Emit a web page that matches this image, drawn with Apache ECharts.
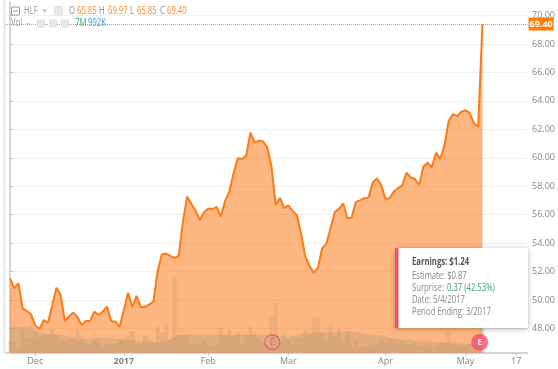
<!DOCTYPE html>
<html><head><meta charset="utf-8">
<style>html,body{margin:0;padding:0;background:#fff}#c{width:558px;height:369px}</style>
<script src="https://cdn.jsdelivr.net/npm/echarts@6/dist/echarts.min.js"></script>
</head><body><div id="c"></div>
<script>
const price = [
51.53,50.83,51.18,49.42,49.23,49.00,48.20,47.97,48.60,48.39,
49.59,50.87,50.36,48.53,48.84,49.12,48.79,48.25,48.53,48.53,
49.19,48.95,49.19,49.54,48.53,48.48,48.11,49.30,50.52,49.52,
50.29,49.52,49.52,49.70,49.89,52.00,53.22,53.26,53.10,52.96,
53.10,55.51,57.27,56.75,56.29,55.63,56.17,56.43,56.38,56.55,
55.87,56.97,57.62,58.91,59.97,59.92,60.15,61.77,61.07,61.21,
61.14,60.74,59.38,56.69,57.18,56.48,56.64,56.27,55.96,54.70,
53.06,52.40,51.91,52.26,53.64,53.95,55.05,56.19,56.41,56.80,
55.75,55.80,56.90,57.01,57.16,57.20,58.28,58.54,58.09,57.11,
57.15,57.62,57.85,58.08,58.95,58.62,58.51,58.08,59.37,59.65,
59.33,60.36,59.91,60.89,62.58,63.07,62.93,63.24,63.35,63.12,
62.42,62.18,69.40];
const volume = [
1.76,1.5,0.67,3.2,2.0,2.0,2.95,2.2,2.5,2.5,
3.4,2.5,1.76,1.76,2.0,2.2,3.2,2.3,1.4,1.2,
1.9,1.5,0.9,1.2,1.2,1.2,1.85,1.85,2.3,3.1,
1.2,1.2,2.4,2.0,1.4,3.75,2.9,4.3,1.8,10.6,
2.5,2.2,2.6,1.3,1.1,1.2,1.9,1.0,0.9,1.2,
3.6,2.5,3.2,2.5,2.9,1.3,2.6,3.75,2.6,2.2,
1.5,1.0,5.2,7.1,1.5,2.6,1.9,1.2,2.1,2.2,
3.3,2.5,5.0,4.9,3.0,1.9,4.0,2.3,3.3,1.8,
3.0,1.0,1.7,0.7,0.9,0.9,1.2,1.2,2.0,1.5,
1.9,1.7,1.4,1.7,1.2,1.2,1.5,1.0,1.0,1.2,
0.9,1.0,1.5,1.5,2.9,1.5,1.2,1.0,1.0,1.2,
1.0,0.9,7.0];
const volumeAvg = [
3.7,3.7,3.65,3.7,3.75,3.7,3.2,2.85,2.7,2.65,
2.6,2.55,2.5,2.4,2.25,2.1,2.0,1.95,1.95,2.0,
2.05,2.1,2.1,2.1,2.05,2.0,1.95,1.9,1.8,1.75,
1.7,1.65,1.6,1.55,1.5,1.5,1.6,1.75,1.9,2.3,
2.55,2.6,2.6,2.6,2.55,2.55,2.6,2.6,2.6,2.6,
2.6,2.6,2.6,2.6,2.6,2.6,2.6,2.6,2.6,2.55,
2.55,2.5,2.5,2.45,2.35,2.3,2.25,2.35,2.5,2.65,
2.75,2.8,2.8,2.85,2.85,2.9,2.9,2.95,3.0,3.0,
3.05,3.05,3.0,2.85,2.7,2.57,2.55,2.5,2.5,2.3,
2.2,2.0,1.95,1.9,1.85,1.8,1.75,1.7,1.65,1.6,
1.5,1.5,1.45,1.4,1.4,1.35,1.35,1.3,1.3,1.25,
1.25,1.2,0.99];
const xTickIndex = [6,27,47,66,89,108,120];
const xTickLabels = ['Dec','2017','Feb','Mar','Apr','May','17'];
const yTicks = [48,50,52,54,56,58,60,62,64,66,68,70];
const earningsMarks = [[62.2,1.5],[111.35,1.5]];
const lastClose = 69.40;

const FONT = '"Open Sans", sans-serif';
const GREY = '#858585', ORANGE = '#ff8420', PINK = '#fb4c6e';
const t = (x, y, text, fill, bold) => ({type:'text', x, y, z:102, scaleX:0.77, style:{text, fill, font:(bold?'bold ':'')+'10px '+FONT, textVerticalAlign:'middle'}});
const box = (x, y, w, h, stroke, fill) => ({type:'rect', z:100, shape:{x,y,width:w,height:h,r:1}, style:{stroke, fill:fill||'none', lineWidth:1}});

const chart = echarts.init(document.getElementById('c'), null, {renderer:'canvas'});
chart.setOption({
  animation:false, backgroundColor:'#fff',
  grid:{left:5, right:29, top:2, bottom:16.3, containLabel:false},
  xAxis:{type:'value', min:-1.18, max:122.7, containShape:false,
    axisLine:{onZero:false, lineStyle:{color:'#c8c8c8', width:1.5}},
    axisTick:{show:true, length:3, lineStyle:{color:'#c8c8c8'}, customValues:xTickIndex},
    splitLine:{show:false},
    axisLabel:{customValues:xTickIndex, margin:4, color:GREY, fontFamily:FONT, fontSize:9,
      formatter:v=>{const l=xTickLabels[xTickIndex.indexOf(v)]; return l==='2017'?'{b|'+l+'}':l;},
      rich:{b:{fontWeight:'bold', color:GREY, fontFamily:FONT, fontSize:9}}}},
  yAxis:[
   {type:'value', position:'right', min:46.30, max:70.95, 
    axisLine:{show:true, lineStyle:{color:'#c8c8c8', width:1.5}},
    axisTick:{show:true, length:3, lineStyle:{color:'#bbb'}, customValues:yTicks},
    splitLine:{show:true, lineStyle:{color:'#efefef', width:1}, customValues:yTicks},
    axisLabel:{customValues:yTicks, margin:4.5, color:GREY, fontFamily:FONT, fontSize:9, formatter:v=>v.toFixed(2)}},
   {type:'value', min:0, max:50, show:false, splitLine:{show:false}}
  ],
  series:[
   {type:'bar', yAxisIndex:1, barWidth:4, z:4, silent:true,
    data:volume.map((v,i)=>({value:[i,v], itemStyle:{color: i===volume.length-1?'rgba(120,200,150,0.3)':'rgba(175,140,95,0.2)'}}))},
   {type:'line', yAxisIndex:1, z:4, silent:true, showSymbol:false, lineStyle:{width:0},
    areaStyle:{color:'rgba(150,145,125,0.25)', origin:'start', opacity:1},
    data:volumeAvg.map((v,i)=>[i,v])},
   {type:'line', yAxisIndex:0, z:3, silent:true, showSymbol:false,
    lineStyle:{color:'#ff7a14', width:2}, itemStyle:{color:'#ff7a14'},
    areaStyle:{color:'rgba(251,122,24,0.55)', origin:'start', opacity:1},
    data:price.map((v,i)=>[i,v]),
    markLine:{silent:true, symbol:'none', animation:false,
      lineStyle:{color:'#ff8a2b', type:'dotted', width:1},
      label:{show:true, position:'end', distance:1, formatter:p=>p.value.toFixed(2), backgroundColor:'#ff7f0e', color:'#fff',
        fontFamily:FONT, fontSize:9, fontWeight:'bold', padding:[2,1,2,1]},
      data:[{yAxis:lastClose}]}},
   {type:'scatter', yAxisIndex:1, z:6, silent:true, symbol:'circle',
    data:[
     {value:earningsMarks[0], symbolSize:15, itemStyle:{color:'rgba(255,255,255,0)', borderColor:'#f4507a', borderWidth:1.4},
      label:{show:true, formatter:'E', position:'inside', color:'#f4507a', fontSize:9, fontFamily:FONT}},
     {value:earningsMarks[1], symbolSize:17, itemStyle:{color:PINK},
      label:{show:true, formatter:'E', position:'inside', color:'#fff', fontSize:9, fontWeight:'bold', fontFamily:FONT}}
    ]}
  ],
  graphic:[
   {type:'rect', z:50, shape:{x:3.5,y:0,width:2,height:353}, style:{fill:'#e6e6e6'}},
   box(11.5,7,8,8,'#999'),
   {type:'rect', z:100, shape:{x:13,y:10.5,width:5,height:1}, style:{fill:'#999'}},
   t(24,11,'HLF','#999'),
   {type:'polygon', z:100, shape:{points:[[42,9.5],[47,9.5],[44.5,12.5]]}, style:{fill:'#c0c0c0'}},
   box(54.5,6.5,8,8,'#ddd','#e8e8e8'),
   t(69,11,'O','#8a8a8a'),
   t(77,11,'65.85',ORANGE),
   t(99,11,'H','#8a8a8a'),
   t(108,11,'69.97',ORANGE),
   t(130,11,'L','#8a8a8a'),
   t(137,11,'65.85',ORANGE),
   t(160,11,'C','#8a8a8a'),
   t(167,11,'69.40',ORANGE),
   t(11,23.5,'Vol','#999'),
   t(26,23,'–','#c0c0c0'),
   box(37.5,20,7,7,'#ddd','#e8e8e8'),
   box(49.5,20,7,7,'#ddd','#e8e8e8'),
   box(61.5,20,7,7,'#ddd','#e8e8e8'),
   t(75,23.5,'7M','#3fa46a'),
   t(88,23.5,'992K','#3b9ee8'),
   {type:'rect', z:100, shape:{x:395,y:248,width:133,height:80}, style:{fill:'#fff', shadowBlur:5, shadowColor:'rgba(0,0,0,0.3)', shadowOffsetY:1}},
   {type:'rect', z:101, shape:{x:395,y:248,width:3.5,height:80}, style:{fill:PINK}},
   t(412,262.5,'Earnings: $1.24','#555',true),
   t(412,276.5,'Estimate: $0.87','#888'),
   t(412,288.5,'Surprise: ','#888'),
   t(447,288.5,'0.37 (42.53%)','#3fa46a'),
   t(412,300,'Date: 5/4/2017','#888'),
   t(412,312,'Period Ending: 3/2017','#888')
  ]
});
</script></body></html>
